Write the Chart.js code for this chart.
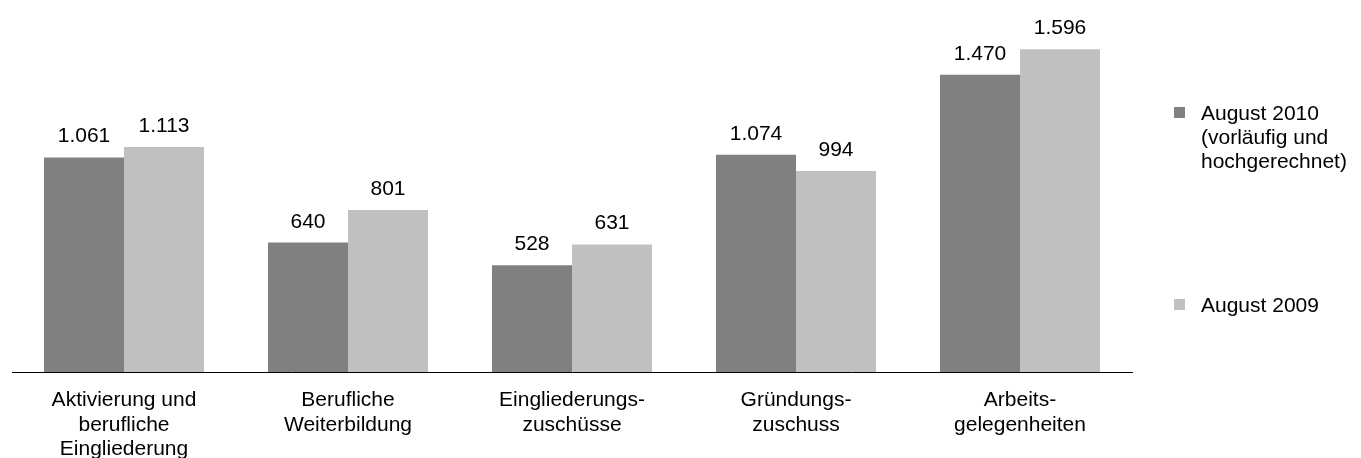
<!DOCTYPE html>
<html>
<head>
<meta charset="utf-8">
<script src="https://cdn.jsdelivr.net/npm/chart.js@4"></script>
<style>
html,body{margin:0;padding:0;background:#fff;}
#wrap{width:1361px;height:458px;position:relative;}
</style>
</head>
<body>
<div id="wrap"><canvas id="c" width="1361" height="458"></canvas></div>
<script>
const categories = [
  ["Aktivierung und", "berufliche", "Eingliederung"],
  ["Berufliche", "Weiterbildung"],
  ["Eingliederungs-", "zuschüsse"],
  ["Gründungs-", "zuschuss"],
  ["Arbeits-", "gelegenheiten"]
];
const series2010 = [1061, 640, 528, 1074, 1470];
const series2009 = [1113, 801, 631, 994, 1596];
const legendLabels = [["August 2010", "(vorläufig und", "hochgerechnet)"], ["August 2009"]];
const colors = ["#808080", "#c0c0c0"];

const FONT = "'Liberation Sans', Arial, sans-serif";

function fmt(v){
  return String(v).replace(/\B(?=(\d{3})+(?!\d))/g, ".");
}

const valueLabels = {
  id: "valueLabels",
  afterDatasetsDraw(chart){
    const ctx = chart.ctx;
    ctx.save();
    ctx.font = "21px " + FONT;
    ctx.fillStyle = "#000";
    ctx.textAlign = "center";
    ctx.textBaseline = "alphabetic";
    chart.data.datasets.forEach((ds, di) => {
      chart.getDatasetMeta(di).data.forEach((bar, i) => {
        ctx.fillText(fmt(ds.data[i]), bar.x, bar.y - 15);
      });
    });
    ctx.restore();
  }
};

const sideLegend = {
  id: "sideLegend",
  afterDraw(chart){
    const ctx = chart.ctx;
    ctx.save();
    ctx.font = "21px " + FONT;
    ctx.textAlign = "left";
    ctx.textBaseline = "alphabetic";
    const itemY = [120, 312];
    legendLabels.forEach((lines, k) => {
      ctx.fillStyle = colors[k];
      ctx.fillRect(1174, itemY[k] - 13, 11, 11);
      ctx.fillStyle = "#000";
      lines.forEach((t, j) => ctx.fillText(t, 1201, itemY[k] + j * 24));
    });
    ctx.restore();
  }
};

new Chart(document.getElementById("c"), {
  type: "bar",
  data: {
    labels: categories,
    datasets: [
      { label: legendLabels[0].join(" "), data: series2010, backgroundColor: colors[0], categoryPercentage: 160/224, barPercentage: 1.0 },
      { label: legendLabels[1].join(" "), data: series2009, backgroundColor: colors[1], categoryPercentage: 160/224, barPercentage: 1.0 }
    ]
  },
  options: {
    responsive: false,
    animation: false,
    layout: { padding: { left: 12, right: 229, top: 8, bottom: 0 } },
    plugins: { legend: { display: false }, tooltip: { enabled: false } },
    scales: {
      x: {
        grid: { display: true, drawOnChartArea: false, drawTicks: false, color: "rgba(0,0,0,0)" },
        border: { display: true, color: "#000", width: 1 },
        ticks: {
          color: "#000",
          font: { family: FONT, size: 21, lineHeight: 24.5/21 },
          padding: 16,
          maxRotation: 0,
          autoSkip: false
        },
        afterFit(scale){ scale.height = 86; }
      },
      y: {
        display: false,
        min: 0,
        max: 1800
      }
    }
  },
  plugins: [valueLabels, sideLegend]
});
</script>
</body>
</html>
